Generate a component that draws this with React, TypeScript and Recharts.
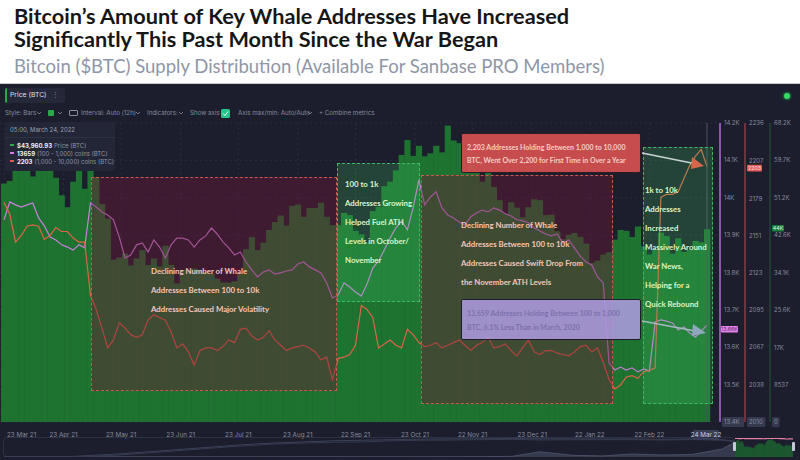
import React from 'react';
import { ComposedChart, Bar, Line, Area, XAxis, YAxis, CartesianGrid, ReferenceLine } from 'recharts';

// 3-day samples from 23 Mar 2021 to 24 Mar 2022
const priceK = [
  54.4, 55.0, 57.6, 59.0, 58.2, 56.0, 59.8, 63.5, 61.3, 55.7,
  51.7, 49.0, 54.8, 57.8, 53.2, 57.4, 55.9, 49.7, 46.4, 37.0,
  37.5, 38.4, 35.7, 37.3, 39.2, 35.8, 37.3, 35.5, 40.2, 35.8,
  31.6, 34.7, 34.7, 35.0, 34.7, 34.2, 33.8, 32.7, 31.8, 31.8,
  32.1, 33.8, 39.4, 42.2, 39.2, 40.9, 43.8, 45.6, 47.1, 44.8,
  49.3, 49.6, 46.8, 48.8, 48.8, 50.0, 46.8, 44.9, 44.9, 47.7,
  47.2, 43.6, 42.8, 41.0, 48.1, 49.1, 53.8, 54.8, 57.4, 60.9,
  64.3, 60.7, 63.0, 60.6, 61.3, 63.0, 61.5, 67.6, 64.2, 63.6,
  56.9, 58.6, 57.2, 54.8, 57.0, 53.6, 50.6, 47.6, 50.1, 48.9,
  46.7, 49.0, 50.8, 50.6, 47.2, 47.3, 43.5, 41.7, 42.7, 43.1,
  42.2, 40.7, 36.3, 36.8, 38.2, 38.7, 41.6, 43.8, 43.6, 42.2,
  44.6, 40.1, 38.2, 39.2, 43.2, 42.4, 38.4, 41.9, 38.8, 39.3,
  41.3, 41.0, 43.96,
];

// (100 - 1,000) coins holders
const holders100 = [
  13941, 13989, 13981, 13975, 13981, 13986, 13946, 13925, 13895, 13887,
  13874, 13868, 13860, 13874, 13866, 13986, 13975, 13962, 13954, 13941,
  13895, 13839, 13847, 13874, 13879, 13855, 13887, 13868, 13839, 13874,
  13892, 13892, 13887, 13868, 13887, 13898, 13919, 13903, 13882, 13866,
  13847, 13855, 13828, 13807, 13788, 13801, 13807, 13796, 13799, 13804,
  13807, 13823, 13828, 13815, 13807, 13799, 13772, 13732, 13740, 13772,
  13761, 13748, 13737, 13769, 13812, 13831, 13860, 13892, 13919, 13938,
  13914, 13973, 14048, 13981, 14002, 14016, 13973, 13954, 13946, 13935,
  13927, 13949, 13959, 13967, 13962, 13973, 13967, 13957, 13951, 13941,
  13938, 13933, 13919, 13911, 13903, 13898, 13903, 13879, 13887, 13866,
  13844, 13828, 13820, 13788, 13772, 13558, 13539, 13547, 13539, 13545,
  13534, 13542, 13536, 13668, 13673, 13670, 13665, 13646, 13654, 13638,
  13627, 13643, 13659,
];

// (1,000 - 10,000) coins holders
const holders1k = [
  2176, 2167, 2146, 2151, 2158, 2159, 2158, 2148, 2151, 2157,
  2154, 2154, 2149, 2146, 2146, 2106, 2095, 2081, 2066, 2072,
  2085, 2081, 2076, 2074, 2076, 2087, 2091, 2089, 2087, 2078,
  2066, 2069, 2063, 2053, 2064, 2066, 2066, 2064, 2067, 2072,
  2070, 2080, 2081, 2075, 2072, 2074, 2079, 2072, 2068, 2064,
  2066, 2067, 2068, 2066, 2063, 2057, 2059, 2042, 2058, 2059,
  2061, 2068, 2098, 2095, 2089, 2066, 2069, 2072, 2068, 2066,
  2080, 2076, 2070, 2067, 2068, 2070, 2066, 2068, 2070, 2072,
  2068, 2064, 2068, 2070, 2074, 2066, 2067, 2069, 2064, 2060,
  2066, 2072, 2063, 2061, 2064, 2064, 2062, 2061, 2060, 2063,
  2067, 2068, 2063, 2066, 2055, 2042, 2035, 2038, 2044, 2045,
  2043, 2048, 2049, 2051, 2180, 2182, 2182, 2184, 2194, 2204,
  2211, 2216, 2203,
];

const dayTicks = [0, 31, 61, 92, 122, 153, 183, 214, 244, 275, 305, 336, 366];
const dayLabels = [
  '23 Mar 21', '23 Apr 21', '23 May 21', '23 Jun 21', '23 Jul 21', '23 Aug 21', '22 Sep 21',
  '23 Oct 21', '22 Nov 21', '23 Dec 21', '22 Jan 22', '22 Feb 22', '24 Mar 22',
];
const holders100Ticks = [13400, 13500, 13600, 13700, 13800, 13900, 14000, 14100, 14200];
const holders1kTicks = [2010, 2038, 2067, 2095, 2123, 2151, 2179, 2207, 2236];
const priceTicks = [0, 8537, 17000, 25600, 34100, 42600, 51200, 59700, 68200];

// navigator: full history (half-year steps)
const navYears = [2009.0, 2009.5, 2010.0, 2010.5, 2011.0, 2011.5, 2012.0, 2012.5, 2013.0, 2013.5, 2014.0, 2014.5, 2015.0,
  2015.5, 2016.0, 2016.5, 2017.0, 2017.5, 2017.96, 2018.5, 2019.0, 2019.5, 2020.0, 2020.5, 2021.0, 2021.22];
const navPriceK = [0, 0, 0, 0, 0.001, 0.015, 0.006, 0.007, 0.013, 0.09, 0.8, 0.6, 0.3,
  0.25, 0.43, 0.67, 1.0, 2.5, 19.0, 6.4, 3.7, 11.0, 7.2, 9.1, 29.0, 54.4];
const navTierA = [0, 0, 0.1, 1.5, 3, 5, 7, 9, 11, 12.5, 13.5, 14.5, 15,
  15.5, 16, 16.2, 16.3, 16.5, 16.3, 16.2, 16.1, 16.2, 15.8, 16.2, 15.6, 14.0];
const navTierB = [0, 0, 0.05, 0.8, 2, 4, 6, 8, 10, 11.5, 12.5, 13.2, 13.5,
  14.5, 15, 15.2, 15.5, 15.8, 15.2, 15.4, 15.5, 15.5, 15.2, 15.6, 15.0, 13.9];

const rows = priceK.map((p, i) => ({
  day: i * 3,
  price: p * 1000,
  h100: holders100[i],
  h1k: holders1k[i],
}));
const navRows = navYears.map((y, i) => ({ year: y, price: navPriceK[i], a: navTierA[i], b: navTierB[i] }));

const last = rows[rows.length - 1];

const PANEL = '#1c1e2d';
const GREY = '#868b9f';
const UI_FONT = 'Inter, "Noto Sans", sans-serif';

const fmtK = (v: number) => `${+(v / 1000).toFixed(1)}K`;
const fmtPrice = (v: number) => (v === 0 ? '0' : v < 10000 ? String(v) : fmtK(v));

const yTick = (fmt: (v: number) => string, minVal: number) => (props: any) => {
  const { x, y, payload } = props;
  const label = fmt(payload.value);
  const isMin = payload.value === minVal;
  return (
    <g>
      {isMin && <rect x={x - 2} y={y - 5} width={label.length * 3.6 + 4} height={10} rx={1.5} fill="#353a50" />}
      <text x={x} y={y} dy="0.35em" fontSize={6} fill={GREY} fontFamily={UI_FONT}>{label}</text>
    </g>
  );
};

const xTick = (props: any) => {
  const { x, y, payload } = props;
  const idx = dayTicks.indexOf(payload.value);
  const label = dayLabels[idx] ?? '';
  if (idx === 0) {
    return <text x={x + 3} y={y + 5} dy="0.35em" fontSize={6.3} fill={GREY} fontFamily={UI_FONT}>{label}</text>;
  }
  if (idx === dayTicks.length - 1) {
    return (
      <g>
        <rect x={x - 14} y={y} width={26} height={10} rx={1.5} fill="#3a3f56" />
        <text x={x - 1} y={y + 5} dy="0.35em" textAnchor="middle" fontSize={6.3} fill="#c9cdd9" fontFamily={UI_FONT}>{label}</text>
      </g>
    );
  }
  return <text x={x} y={y + 5} dy="0.35em" textAnchor="middle" fontSize={6.3} fill={GREY} fontFamily={UI_FONT}>{label}</text>;
};

const badge = (text: string, bg: string, fg: string, dx: number, w: number, dy: number) => (props: any) => {
  const vb = props.viewBox || {};
  const x = (vb.x ?? 0) + (vb.width ?? 0) + dx;
  const y = (vb.y ?? 0) + dy;
  return (
    <g>
      <rect x={x} y={y - 3.3} width={w} height={6.6} rx={1} fill={bg} />
      <text x={x + w / 2} y={y} dy="0.35em" textAnchor="middle" fontSize={5.3} fill={fg} fontFamily={UI_FONT}>{text}</text>
    </g>
  );
};

// wide bars so neighbouring 3-day bars touch like the dense 12h bars
const priceBar = (props: any) => {
  const { x, y, width, height, fill } = props;
  if (!height || height <= 0) return <g />;
  const cx = x + width / 2;
  return <rect x={cx - 3.1} y={y} width={6.2} height={height} fill={fill} />;
};

const Txt: React.FC<{ x: number; y: number; size: number; color: string; weight?: number; font?: string; children: React.ReactNode }> = ({ x, y, size, color, weight = 400, font = UI_FONT, children }) => (
  <div style={{ position: 'absolute', left: x, top: y - size * 0.6, fontSize: size, lineHeight: `${size * 1.2}px`, color, fontWeight: weight, fontFamily: font, whiteSpace: 'nowrap' }}>
    {children}
  </div>
);

const Chevron: React.FC<{ x: number; y: number }> = ({ x, y }) => (
  <svg style={{ position: 'absolute', left: x, top: y - 2 }} width={6} height={4}>
    <polyline points="1,1 3,3 5,1" fill="none" stroke={GREY} strokeWidth={0.8} />
  </svg>
);

type Box = { left: number; top: number; right: number; bottom: number; kind: 'red' | 'green'; tx: number; ty: number; lines: string[] };

const boxes: Box[] = [
  { left: 91, top: 177, right: 337, bottom: 391, kind: 'red', tx: 151, ty: 272, lines: ['Declining Number of Whale', 'Addresses Between 100 to 10k', 'Addresses Caused Major Volatility'] },
  { left: 337, top: 163, right: 420, bottom: 302, kind: 'green', tx: 345, ty: 185, lines: ['100 to 1k', 'Addresses Growing', 'Helped Fuel ATH', 'Levels in October/', 'November'] },
  { left: 421, top: 175, right: 613, bottom: 404, kind: 'red', tx: 461, ty: 226, lines: ['Declining Number of Whale', 'Addresses Between 100 to 10k', 'Addresses Caused Swift Drop From', 'the November ATH Levels'] },
  { left: 643, top: 147, right: 713, bottom: 404, kind: 'green', tx: 645, ty: 191, lines: ['1k to 10k', 'Addresses', 'Increased', 'Massively Around', 'War News,', 'Helping for a', 'Quick Rebound'] },
];

const NOTE_FONT = 'Lato, "Noto Sans", sans-serif';

export default function App() {
  return (
    <div style={{ position: 'absolute', left: 0, top: 0, width: 800, height: 460, background: '#ffffff', overflow: 'hidden' }}>
      {/* header */}
      <div style={{ position: 'absolute', left: 14, top: 4.5, fontSize: 21.7, lineHeight: '23.5px', fontWeight: 700, color: '#161616', fontFamily: NOTE_FONT, whiteSpace: 'nowrap' }}>
        Bitcoin’s Amount of Key Whale Addresses Have Increased<br />Significantly This Past Month Since the War Began
      </div>
      <div style={{ position: 'absolute', left: 14, top: 56.5, fontSize: 18.5, lineHeight: '18.5px', color: '#8e96a8', fontFamily: NOTE_FONT, whiteSpace: 'nowrap' }}>
        Bitcoin ($BTC) Supply Distribution (Available For Sanbase PRO Members)
      </div>
      <div style={{ position: 'absolute', left: 0, top: 82.5, width: 800, height: 1.5, background: '#c8c8cc' }} />
      <div style={{ position: 'absolute', left: 0, top: 84, width: 800, height: 376, background: PANEL }} />

      {/* main chart */}
      <div style={{ position: 'absolute', left: 0, top: 0 }}>
        <ComposedChart width={800} height={460} data={rows} margin={{ top: 123, right: 0, bottom: 22, left: 0 }} barCategoryGap={0}>
          <CartesianGrid yAxisId="h100" stroke="#2a2d3f" strokeDasharray="2 3" />
          <XAxis
            dataKey="day"
            type="number"
            domain={[0, 366]}
            ticks={dayTicks}
            interval={0}
            padding={{ left: 4, right: 13 }}
            height={16}
            axisLine={false}
            tickLine={false}
            tick={xTick}
          />
          <YAxis yAxisId="h100" orientation="right" domain={[13400, 14200]} ticks={holders100Ticks} width={25} interval={0}
            axisLine={{ stroke: '#b468d6', strokeWidth: 1.5 }} tickLine={false} tickSize={0} tickMargin={4} tick={yTick(fmtK, 13400)} />
          <YAxis yAxisId="h1k" orientation="right" domain={[2010, 2236]} ticks={holders1kTicks} width={25} interval={0}
            axisLine={{ stroke: '#c4474c', strokeWidth: 1 }} tickLine={false} tickSize={0} tickMargin={4} tick={yTick(String, 2010)} />
          <YAxis yAxisId="price" orientation="right" domain={[0, 68200]} ticks={priceTicks} width={30} interval={0}
            axisLine={{ stroke: '#1f5a33', strokeWidth: 1 }} tickLine={false} tickSize={0} tickMargin={4} tick={yTick(fmtPrice, 0)} />
          <Bar yAxisId="price" dataKey="price" fill="#1e7331" shape={priceBar} isAnimationActive={false} />
          <Line yAxisId="h100" dataKey="h100" type="linear" stroke="#c97fdc" strokeWidth={1.2} dot={false} isAnimationActive={false} />
          <Line yAxisId="h1k" dataKey="h1k" type="linear" stroke="#de6446" strokeWidth={1.2} dot={false} isAnimationActive={false} />
          <ReferenceLine yAxisId="price" x={366} stroke="#4a4e62" strokeWidth={1} />
          <ReferenceLine yAxisId="h100" y={last.h100} stroke="none" label={badge('13.66K', '#e583ec', '#5a2a60', 1, 17, 4)} />
          <ReferenceLine yAxisId="h1k" y={last.h1k} stroke="none" label={badge('2203', '#e35a5a', '#ffe0e0', 27, 15, 1.5)} />
          <ReferenceLine yAxisId="price" y={last.price} stroke="none" label={badge('44K', '#1f7a3c', '#d8f5dc', 52, 12, -1)} />
        </ComposedChart>
      </div>

      {/* annotation boxes */}
      {boxes.map((b, i) => (
        <div key={i} style={{
          position: 'absolute', left: b.left, top: b.top, width: b.right - b.left, height: b.bottom - b.top, boxSizing: 'border-box',
          border: `1px dashed ${b.kind === 'red' ? '#c9584f' : '#3fb865'}`,
          background: b.kind === 'red' ? 'rgba(110,25,55,0.42)' : 'rgba(70,200,100,0.22)',
        }} />
      ))}
      {boxes.map((b, i) => b.lines.map((ln, j) => (
        <Txt key={`${i}-${j}`} x={b.tx} y={b.ty + j * 19} size={7.8} weight={700} font={NOTE_FONT}
          color={b.kind === 'red' ? '#f6c6ba' : '#dcf6c8'}>{ln}</Txt>
      )))}

      {/* callouts */}
      <div style={{ position: 'absolute', left: 461, top: 133, width: 180, height: 40, boxSizing: 'border-box', background: 'rgba(212,80,80,0.93)', border: '1px solid #2a1c22', borderRadius: 2 }} />
      <Txt x={467} y={147} size={7} weight={700} font={NOTE_FONT} color="#f4cdc6">2,203 Addresses Holding Between 1,000 to 10,000</Txt>
      <Txt x={467} y={160.5} size={7} weight={700} font={NOTE_FONT} color="#f4cdc6">BTC, Went Over 2,200 for First Time in Over a Year</Txt>
      <div style={{ position: 'absolute', left: 461, top: 299, width: 180, height: 41, boxSizing: 'border-box', background: 'rgba(176,156,226,0.86)', border: '1px solid #1e1e2a', borderRadius: 2 }} />
      <Txt x={467} y={313} size={7} weight={700} font={NOTE_FONT} color="#7c71ad">13,659 Addresses Holding Between 100 to 1,000</Txt>
      <Txt x={467} y={327} size={7} weight={700} font={NOTE_FONT} color="#7c71ad">BTC, 6.1% Less Than in March, 2020</Txt>

      {/* arrows */}
      <svg style={{ position: 'absolute', left: 0, top: 0 }} width={800} height={460}>
        <line x1={642} y1={153} x2={694} y2={163.5} stroke="#c9d2d4" strokeWidth={1.5} />
        <polygon points="692,157 704,166 691,169" fill="#d0694a" />
        <line x1={642} y1={321} x2={695} y2={331} stroke="#a8b5c5" strokeWidth={1.5} />
        <polygon points="693,324 706,333 692,336" fill="#8ea7be" />
      </svg>

      {/* top bar */}
      <div style={{ position: 'absolute', left: 5, top: 88, width: 58, height: 15, background: '#242838', borderLeft: '2px solid #2aa748', borderRadius: 2 }} />
      <Txt x={10} y={95.5} size={6.8} color="#dfe2ea">Price (BTC)</Txt>
      <Txt x={52} y={95.5} size={7} color={GREY}>⋮</Txt>
      <div style={{ position: 'absolute', left: 784, top: 93, width: 6, height: 6, borderRadius: 3, background: '#35d865', boxShadow: '0 0 3px #35d865' }} />

      {/* toolbar */}
      <Txt x={5} y={113} size={6.2} color={GREY}>Style: Bars</Txt>
      <Chevron x={36} y={113} />
      <div style={{ position: 'absolute', left: 48, top: 110, width: 6, height: 6, background: '#2aa748', borderRadius: 1 }} />
      <Chevron x={57} y={113} />
      <div style={{ position: 'absolute', left: 69, top: 110, width: 9, height: 6, border: `1px solid ${GREY}`, boxSizing: 'border-box', borderRadius: 1 }} />
      <Txt x={81} y={113} size={6.2} color={GREY}>Interval: Auto (12h)</Txt>
      <Chevron x={135} y={113} />
      <Txt x={147} y={113} size={6.2} color={GREY}>Indicators:</Txt>
      <Chevron x={178} y={113} />
      <Txt x={190} y={113} size={6.2} color={GREY}>Show axis</Txt>
      <div style={{ position: 'absolute', left: 221, top: 108.5, width: 9, height: 9, background: '#25c48a', borderRadius: 1.5 }} />
      <svg style={{ position: 'absolute', left: 221, top: 108.5 }} width={9} height={9}>
        <polyline points="2,4.5 4,6.5 7,2.5" fill="none" stroke="#ffffff" strokeWidth={1} />
      </svg>
      <Txt x={238} y={113} size={6.2} color={GREY}>Axis max/min: Auto/Auto</Txt>
      <Chevron x={307} y={113} />
      <Txt x={319} y={113} size={6.2} color={GREY}>+ Combine metrics</Txt>

      {/* legend box */}
      <div style={{ position: 'absolute', left: 5, top: 122, width: 110, height: 49, background: '#232637', borderRadius: 2 }} />
      <div style={{ position: 'absolute', left: 5, top: 137, width: 110, height: 1, background: '#2e3245' }} />
      <Txt x={10} y={130} size={6} color="#9aa0b3">05:00, March 24, 2022</Txt>
      {[
        { c: '#2fa84a', v: '$43,960.93', l: 'Price (BTC)' },
        { c: '#d67ee0', v: '13659', l: '(100 - 1,000) coins (BTC)' },
        { c: '#e05a50', v: '2203', l: '(1,000 - 10,000) coins (BTC)' },
      ].map((r, i) => (
        <div key={i} style={{ position: 'absolute', left: 10, top: 145 + i * 8 - 4, height: 8, display: 'flex', alignItems: 'center', fontFamily: UI_FONT, fontSize: 6, whiteSpace: 'nowrap' }}>
          <span style={{ display: 'inline-block', width: 4, height: 1.5, background: r.c, marginRight: 3 }} />
          <span style={{ color: '#eef0f5', fontWeight: 700, marginRight: 2 }}>{r.v}</span>
          <span style={{ color: '#8e93a7' }}>{r.l}</span>
        </div>
      ))}

      {/* navigator */}
      <div style={{ position: 'absolute', left: 3, top: 437, width: 732, height: 20, border: '1px solid #2d3144', borderRadius: 4, boxSizing: 'border-box' }} />
      <div style={{ position: 'absolute', left: 4, top: 438 }}>
        <ComposedChart width={731} height={19} data={navRows} margin={{ top: 0, right: 0, bottom: 0, left: 0 }}>
          <XAxis dataKey="year" type="number" domain={[2009, 2021.22]} hide />
          <YAxis yAxisId="p" domain={[0, 70]} hide />
          <YAxis yAxisId="t" domain={[0, 17]} hide />
          <Area yAxisId="p" dataKey="price" type="linear" stroke="#4a4f66" fill="#363a4e" fillOpacity={1} isAnimationActive={false} />
          <Line yAxisId="t" dataKey="a" type="linear" stroke="#3d4259" strokeWidth={1} dot={false} isAnimationActive={false} />
          <Line yAxisId="t" dataKey="b" type="linear" stroke="#353a50" strokeWidth={1} dot={false} isAnimationActive={false} />
        </ComposedChart>
      </div>
      <div style={{ position: 'absolute', left: 735, top: 438 }}>
        <ComposedChart width={58} height={19} data={rows} margin={{ top: 0, right: 0, bottom: 0, left: 0 }} barCategoryGap={0}>
          <XAxis dataKey="day" type="number" domain={[0, 366]} hide />
          <YAxis yAxisId="p" domain={[0, 68200]} hide />
          <YAxis yAxisId="h" domain={[0, 14300]} hide />
          <Bar yAxisId="p" dataKey="price" fill="#1e7432" barSize={1} isAnimationActive={false} />
          <Line yAxisId="h" dataKey="h100" type="linear" stroke="#e77fa2" strokeWidth={1.2} dot={false} isAnimationActive={false} />
        </ComposedChart>
      </div>
      <div style={{ position: 'absolute', left: 733, top: 442, width: 3, height: 9, background: '#c4c9d6', borderRadius: 1 }} />
      <div style={{ position: 'absolute', left: 792, top: 442, width: 3, height: 9, background: '#c4c9d6', borderRadius: 1 }} />
    </div>
  );
}
